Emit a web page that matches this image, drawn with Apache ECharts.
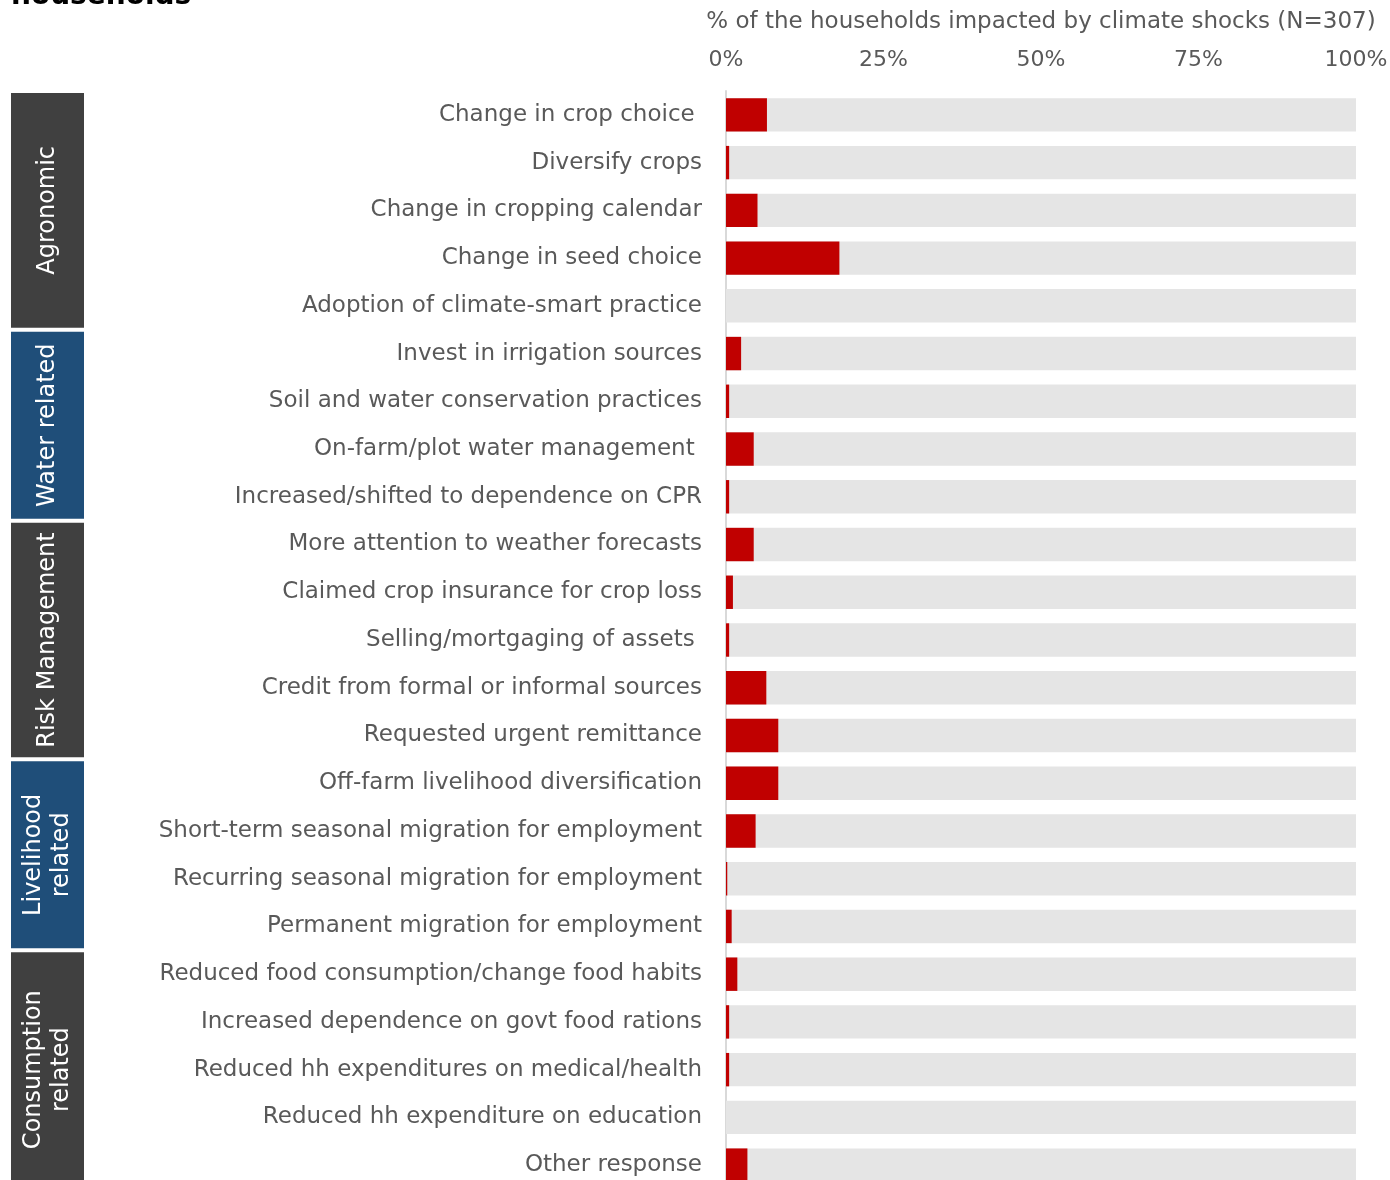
<!DOCTYPE html>
<html><head><meta charset="utf-8">
<script src="https://cdn.jsdelivr.net/npm/echarts@6/dist/echarts.min.js"></script>
<style>html,body{margin:0;padding:0;background:#fff;overflow:hidden}#c{width:1390px;height:1180px}</style>
</head><body><div id="c"></div>
<script>
const categories = [
  'Change in crop choice ',
  'Diversify crops',
  'Change in cropping calendar',
  'Change in seed choice',
  'Adoption of climate-smart practice',
  'Invest in irrigation sources',
  'Soil and water conservation practices',
  'On-farm/plot water management ',
  'Increased/shifted to dependence on CPR',
  'More attention to weather forecasts',
  'Claimed crop insurance for crop loss',
  'Selling/mortgaging of assets ',
  'Credit from formal or informal sources',
  'Requested urgent remittance',
  'Off-farm livelihood diversification',
  'Short-term seasonal migration for employment',
  'Recurring seasonal migration for employment',
  'Permanent migration for employment',
  'Reduced food consumption/change food habits',
  'Increased dependence on govt food rations',
  'Reduced hh expenditures on medical/health',
  'Reduced hh expenditure on education',
  'Other response'
];
const values = [6.5, 0.5, 5.0, 18.0, 0, 2.4, 0.5, 4.4, 0.5, 4.4, 1.1, 0.5, 6.4, 8.3, 8.3, 4.7, 0.2, 0.9, 1.8, 0.5, 0.5, 0, 3.4];
const groupNames = ['Agronomic', 'Water related', 'Risk Management', 'Livelihood\nrelated', 'Consumption\nrelated'];
const groupSizes = [5, 4, 5, 4, 5];
const tickValues = [0, 25, 50, 75, 100];
const axisTitle = '% of the households impacted by climate shocks (N=307)';
const titleText = 'households';

const FONT = '"DejaVu Sans", sans-serif';
const TEXT = '#595959';
const groupFill = ['#404040', '#1F4E79', '#404040', '#1F4E79', '#404040'];

const chart = echarts.init(document.getElementById('c'));
chart.setOption({
  animation: false,
  backgroundColor: '#fff',
  textStyle: { fontFamily: FONT },
  grid: { left: 726, right: 34, top: 91, height: 1098, containLabel: false, outerBoundsMode: 'none' },
  xAxis: {
    type: 'value', position: 'top', min: tickValues[0], max: tickValues[tickValues.length - 1],
    interval: tickValues[1] - tickValues[0],
    name: axisTitle, nameLocation: 'middle', nameGap: 57,
    nameTextStyle: { fontSize: 23, color: TEXT, fontFamily: FONT },
    axisLabel: { formatter: '{value}%', fontSize: 22, color: TEXT, margin: 20, fontFamily: FONT },
    axisLine: { show: false }, axisTick: { show: false }, splitLine: { show: false }
  },
  yAxis: {
    type: 'category', data: categories, inverse: true,
    axisLine: { show: true, lineStyle: { color: '#D9D9D9', width: 2 } },
    axisTick: { show: false },
    axisLabel: { fontSize: 23, color: TEXT, margin: 24, fontFamily: FONT }
  },
  series: [{
    type: 'bar', data: values, barCategoryGap: '30%',
    itemStyle: { color: '#C00000' },
    showBackground: true, backgroundStyle: { color: '#E5E5E5' }
  }]
});

// group boxes positioned from the category axis
const graphics = [];
let idx = 0;
const band = chart.convertToPixel({ yAxisIndex: 0 }, categories[1]) - chart.convertToPixel({ yAxisIndex: 0 }, categories[0]);
groupNames.forEach((name, g) => {
  const first = categories[idx];
  const last = categories[idx + groupSizes[g] - 1];
  const y0 = chart.convertToPixel({ yAxisIndex: 0 }, first) - band / 2 + 2;
  const y1 = chart.convertToPixel({ yAxisIndex: 0 }, last) + band / 2 - 2;
  graphics.push({
    type: 'rect', shape: { x: 11, y: y0, width: 73, height: y1 - y0 },
    style: { fill: groupFill[g] }, z: 10
  });
  graphics.push({
    type: 'text', x: 48, y: (y0 + y1) / 2, rotation: Math.PI / 2, z: 11,
    style: { text: name, fill: '#fff', font: '24px ' + FONT, align: 'center', verticalAlign: 'middle', lineHeight: 28 }
  });
  idx += groupSizes[g];
});
graphics.push({
  type: 'text', x: 11, y: 11, z: 11,
  style: { text: titleText, fill: '#000', font: 'bold 28px ' + FONT, align: 'left', verticalAlign: 'bottom' }
});
chart.setOption({ graphic: graphics });
</script>
</body></html>
